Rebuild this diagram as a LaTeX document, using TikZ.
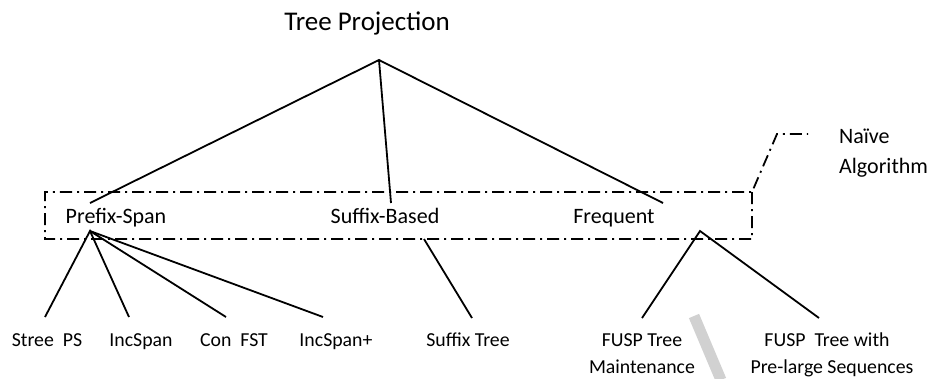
\documentclass[tikz,border=0pt]{standalone}
\usepackage{fontspec}
\setmainfont{Carlito}
\begin{document}
\begin{tikzpicture}[x=1pt,y=-1pt,
  edge/.style={line width=1.8pt, black},
  ddot/.style={line width=1.8pt, dash pattern=on 12pt off 5pt on 2pt off 5pt},
  lbl/.style={anchor=base, inner sep=0pt, font=\fontsize{19.8}{22}\selectfont},
  mid/.style={anchor=base, inner sep=0pt, font=\fontsize{22}{26}\selectfont},
  ]
\useasboundingbox (0,0) rectangle (930,378);
\fill[white] (0,0) rectangle (930,378);

% root
\node[anchor=base, inner sep=0pt, font=\fontsize{27}{31}\selectfont] (root) at (367,30) {Tree Projection};
\coordinate (apex) at (379,60);

% second level
\node[mid] (ps) at (116,223) {Prefix-Span};
\node[mid] (sb) at (385,223) {Suffix-Based};
\node[mid] (fr) at (614,223) {Frequent};
\coordinate (psTop) at (90,203);
\coordinate (sbTop) at (391,203);
\coordinate (frTop) at (663,203);
\coordinate (psBot) at (90,231);
\coordinate (sbBot) at (424,239);
\coordinate (frBot) at (700,231);

\draw[edge] (psTop) -- (apex) -- (frTop);
\draw[edge] (apex) -- (sbTop);

% dash-dot grouping box with its callout
\coordinate (bxTL) at (45,192);
\coordinate (bxTR) at (752,192);
\coordinate (bxBR) at (752,239);
\coordinate (bxBL) at (45,239);
\coordinate (clA) at (777,134);
\coordinate (clB) at (808,134);
\draw[ddot] (bxTR) -- (bxBR) -- (bxBL) -- (bxTL) -- (bxTR) -- (clA) -- (clB);
\node[anchor=base west, inner sep=0pt, font=\fontsize{22}{26}\selectfont] (nv1) at (839,143) {Naïve};
\node[anchor=base west, inner sep=0pt, font=\fontsize{22}{26}\selectfont] (nv2) at (839,173) {Algorithm};

% leaves
\node[lbl] (l1) at (47,346) {Stree\ \ PS};
\node[lbl] (l2) at (141,346) {IncSpan};
\node[lbl] (l3) at (234,346) {Con\ \ FST};
\node[lbl] (l4) at (336,346) {IncSpan+};
\node[lbl] (l5) at (468,346) {Suffix Tree};
\node[lbl] (l6) at (642,346) {FUSP Tree};
\node[lbl] (l6b) at (642,373) {Maintenance};
\node[lbl] (l7) at (827,346) {FUSP\ \ Tree with};
\node[lbl] (l7b) at (832,373) {Pre-large Sequences};

\coordinate (e1) at (45,317);
\coordinate (e2) at (129,317);
\coordinate (e3) at (226,317);
\coordinate (e4) at (323,317);
\coordinate (e5) at (472,318);
\coordinate (e6) at (642,318);
\coordinate (e7) at (819,318);

\draw[edge] (e1) -- (psBot) -- (e2);
\draw[edge] (psBot) -- (e3);
\draw[edge] (psBot) -- (e4);
\draw[edge] (sbBot) -- (e5);
\draw[edge] (e6) -- (frBot) -- (e7);

% faint grey stroke at the bottom
\draw[line width=11pt, black!18] (694,316) -- (721,380);
\end{tikzpicture}
\end{document}
